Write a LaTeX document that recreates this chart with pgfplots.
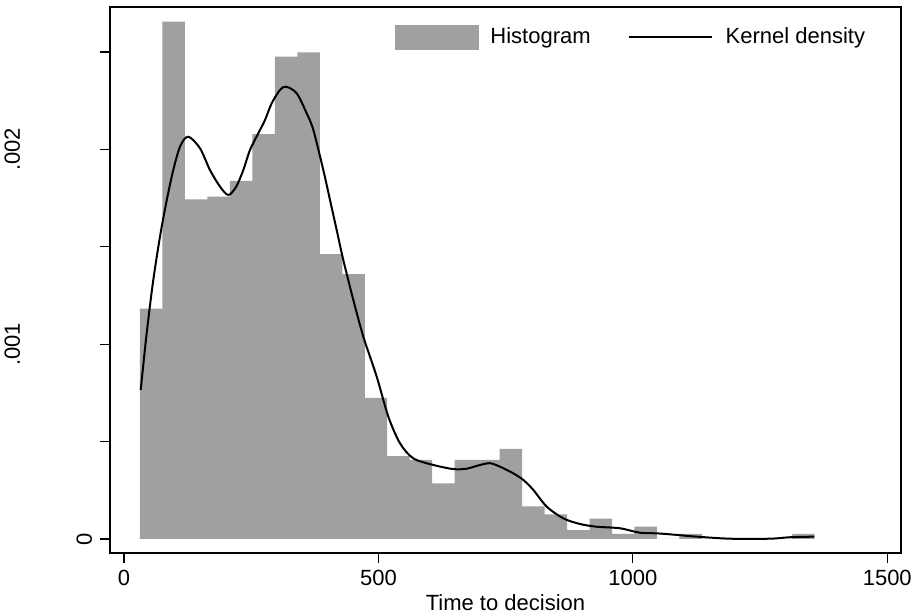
\documentclass[border=0pt]{standalone}
\usepackage{fontspec}
\setmainfont{Liberation Sans}
\usepackage{pgfplots}
\pgfplotsset{compat=1.18}
\definecolor{histgray}{RGB}{160,160,160}

\begin{document}
\begin{tikzpicture}
\useasboundingbox (-55pt,-31pt) rectangle (403pt,276.5pt);
\begin{axis}[
  at={(0,0)}, anchor=south west,
  scale only axis, width=395.5pt, height=273pt,
  xmin=-27.5, xmax=1527,
  ymin=-0.0000719, ymax=0.002731,
  xtick={0,500,1000,1500},
  xticklabels={0,500,1000,1500},
  ytick={0,0.0005,0.001,0.0015,0.002,0.0025},
  % the 0 label sits close to the axis, the others far out
  yticklabels={\raisebox{-36pt}{0},,.001,,.002,},
  scaled y ticks=false,
  tick align=outside, major tick length=5pt,
  xtick pos=bottom, ytick pos=left,
  axis line style={line width=0.75pt},
  tick style={black, line width=0.6pt},
  font=\fontsize{11}{13}\selectfont,
  /pgf/number format/assume math mode=true,
  yticklabel style={rotate=90, anchor=base, inner sep=0pt, yshift=40pt},
  xlabel={Time to decision},
  xlabel style={yshift=2.5pt},
  legend columns=2,
  legend cell align=left,
  legend style={draw=none, fill=none, inner sep=0pt,
    at={(0.3603,0.945)}, anchor=west,
    /tikz/column 1/.style={column sep=3.5pt},
    /tikz/column 2/.style={column sep=16.5pt},
    /tikz/column 3/.style={column sep=4.5pt}},
]
\addplot[ybar interval, fill=histgray, draw=none,
  legend image code/.code={\fill[histgray] (0pt,-6.25pt) rectangle (42pt,6.25pt);}]
coordinates {
(31.40,0.001183) (75.58,0.002656) (119.75,0.001743) (163.93,0.001757)
(208.10,0.001838) (252.28,0.002078) (296.45,0.002476) (340.63,0.002498)
(384.80,0.001463) (428.98,0.001360) (473.15,0.000725) (517.33,0.000426)
(561.50,0.000406) (605.68,0.000286) (649.85,0.000406) (694.03,0.000406)
(738.20,0.000462) (782.38,0.000168) (826.55,0.000127) (870.73,0.000046)
(914.90,0.000104) (959.08,0.000026) (1003.25,0.000063) (1047.43,0)
(1091.60,0.000026) (1135.78,0) (1179.95,0) (1224.13,0)
(1268.30,0) (1312.48,0.000026) (1356.65,0.000026)
};
\addplot[black, line width=1pt, smooth,
  legend image code/.code={\draw[black,line width=1pt] (0pt,0pt) -- (41.5pt,0pt);}]
coordinates {
(32.8,0.000765) (44.6,0.001056) (57.6,0.001330) (74.1,0.001603)
(93.8,0.001860) (110.1,0.002014) (126.4,0.002065) (149.3,0.002006)
(169.0,0.001894) (188.7,0.001809) (205.0,0.001766) (220.6,0.001809)
(234.5,0.001894) (247.6,0.001997) (264.0,0.002083) (277.1,0.002151)
(290.3,0.002237) (306.6,0.002305) (318.4,0.002322) (339.4,0.002288)
(359.1,0.002185) (372.1,0.002100) (391.7,0.001894) (404.9,0.001740)
(418.0,0.001586) (431.0,0.001432) (450.7,0.001227) (470.3,0.001039)
(496.7,0.000833) (519.5,0.000628) (542.5,0.000491) (568.6,0.000414)
(607.9,0.000380) (647.2,0.000359) (673.5,0.000361) (699.7,0.000380)
(719.3,0.000389) (739.0,0.000371) (765.1,0.000337) (784.8,0.000303)
(804.4,0.000252) (830.8,0.000166) (863.4,0.000106) (896.2,0.000077)
(929.0,0.000063) (974.8,0.000055) (1014.2,0.000032) (1047.0,0.000029)
(1086.3,0.000021) (1125.6,0.000012) (1191.0,0.0000015) (1269.7,0.0000015)
(1309.0,0.000009) (1356.7,0.000012)
};
\legend{Histogram, Kernel density}
\end{axis}
\end{tikzpicture}
\end{document}
